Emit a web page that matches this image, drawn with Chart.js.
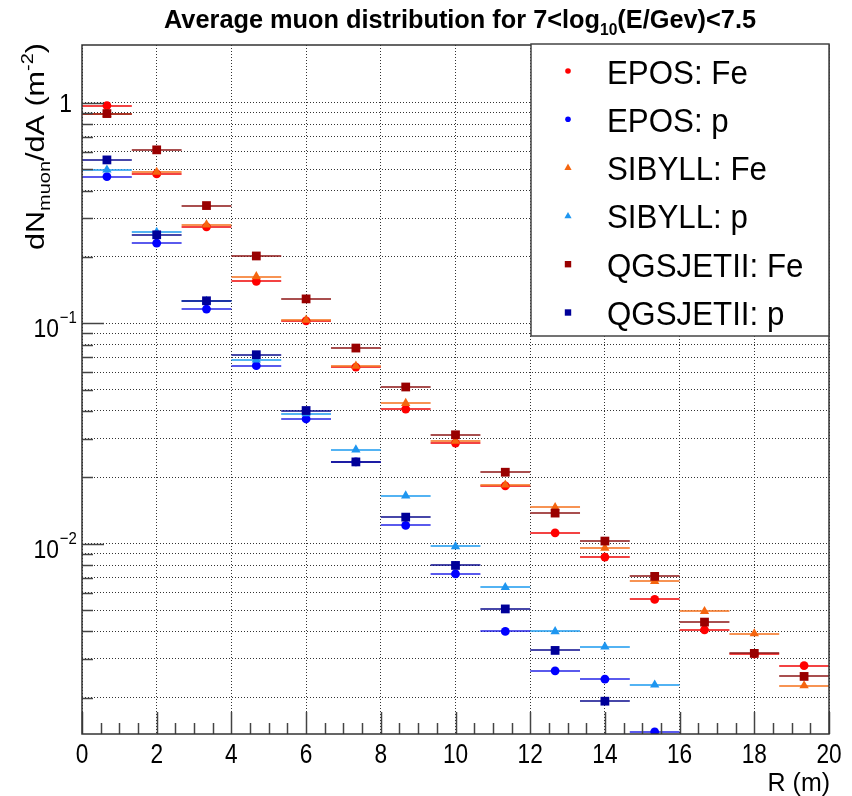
<!DOCTYPE html>
<html>
<head>
<meta charset="utf-8">
<script src="https://cdn.jsdelivr.net/npm/chart.js@4/dist/chart.umd.min.js"></script>
<style>
  html, body { margin: 0; padding: 0; background: #fff; }
  #wrap { width: 852px; height: 796px; }
</style>
</head>
<body>
<div id="wrap"><canvas id="myCanvas" width="852" height="796"></canvas></div>
<script>
// bins of R (m), 15 bins of width 4/3 from 0 to 20
const binCenters = [0.667, 2, 3.333, 4.667, 6, 7.333, 8.667, 10, 11.333, 12.667, 14, 15.333, 16.667, 18, 19.333];
const binHalfWidth = 0.6667;

// dN_muon/dA (m^-2) per model and primary
const eposFe   = [0.972, 0.476, 0.274, 0.155, 0.1026, 0.0633, 0.0408, 0.0286, 0.0183, 0.0112, 0.0087, 0.00559, 0.00407, 0.00316, 0.0028];
const eposP    = [0.463, 0.231, 0.116, 0.0642, 0.0368, 0.0235, 0.0121, 0.00729, 0.0040, 0.00265, 0.00243, 0.0014, null, null, null];
const sibyllFe = [0.89, 0.485, 0.280, 0.163, 0.1035, 0.064, 0.0434, 0.0292, 0.0185, 0.0146, 0.00956, 0.00675, 0.00493, 0.00391, 0.00227];
const sibyllP  = [0.497, 0.259, 0.126, 0.0683, 0.0389, 0.0267, 0.0165, 0.00972, 0.00634, 0.0040, 0.00341, 0.00229, null, null, null];
const qgsFe    = [0.894, 0.612, 0.342, 0.202, 0.129, 0.0772, 0.0514, 0.0312, 0.0211, 0.01377, 0.01028, 0.00711, 0.00441, 0.00318, 0.0025];
const qgsP     = [0.551, 0.252, 0.1265, 0.0720, 0.0402, 0.0235, 0.0132, 0.00797, 0.00506, 0.00328, 0.00193, null, null, null, null];

const seriesLabels = ['EPOS: Fe', 'EPOS: p', 'SIBYLL: Fe', 'SIBYLL: p', 'QGSJETII: Fe', 'QGSJETII: p'];
const seriesValues = [eposFe, eposP, sibyllFe, sibyllP, qgsFe, qgsP];
const seriesColors = ['#ff0000', '#0000ff', '#f5650f', '#1e96f0', '#990000', '#000099'];
const barColors    = ['rgba(240,20,20,0.8)', 'rgba(20,20,230,0.7)', 'rgba(245,120,40,0.8)', 'rgba(40,160,240,0.8)', 'rgba(140,20,20,0.75)', 'rgba(10,10,140,0.75)'];
const seriesMarkers = ['circle', 'circle', 'triangle', 'triangle', 'rect', 'rect'];

// axis ticks
const xTickLabels = ['0', '2', '4', '6', '8', '10', '12', '14', '16', '18', '20'];
const yTickValues = [0.002, 0.003, 0.004, 0.005, 0.006, 0.007, 0.008, 0.009,
                     0.01, 0.02, 0.03, 0.04, 0.05, 0.06, 0.07, 0.08, 0.09,
                     0.1, 0.2, 0.3, 0.4, 0.5, 0.6, 0.7, 0.8, 0.9, 1];
const yMajorValues = [0.01, 0.1, 1];
const yMajorLabels = [['10', '\u22122'], ['10', '\u22121'], ['1', '']];

const FONT = '"Liberation Sans", Arial, sans-serif';

function measurePieces(ctx, pieces) {
    let w = 0;
    pieces.forEach(p => { ctx.font = p.font; p.w = ctx.measureText(p.text).width; w += p.w; });
    return w;
}

function drawPieces(ctx, pieces, sx) {
    let cx = 0;
    ctx.save();
    ctx.scale(sx, 1);
    ctx.textAlign = 'left';
    ctx.textBaseline = 'alphabetic';
    pieces.forEach(p => { ctx.font = p.font; ctx.fillText(p.text, cx, p.dy); cx += p.w; });
    ctx.restore();
}

function drawMarker(ctx, style, x, y, r, color) {
    ctx.fillStyle = color;
    ctx.beginPath();
    if (style === 'circle') {
        ctx.arc(x, y, r, 0, Math.PI * 2);
    } else if (style === 'triangle') {
        ctx.moveTo(x, y - r);
        ctx.lineTo(x + r * 0.9, y + r * 0.6);
        ctx.lineTo(x - r * 0.9, y + r * 0.6);
        ctx.closePath();
    } else {
        ctx.rect(x - r, y - r, 2 * r, 2 * r);
    }
    ctx.fill();
}

const rootStyle = {
    id: 'rootStyle',
    beforeDatasetsDraw(chart) {
        const { ctx, chartArea: a, scales: { x, y } } = chart;
        ctx.save();
        ctx.beginPath();
        ctx.rect(a.left, a.top, a.right - a.left, a.bottom - a.top);
        ctx.clip();
        ctx.lineWidth = 2;
        chart.data.datasets.forEach(ds => {
            ctx.strokeStyle = ds.barColor;
            ds.data.forEach(p => {
                const py = Math.round(y.getPixelForValue(p.y));
                ctx.beginPath();
                ctx.moveTo(x.getPixelForValue(p.x - binHalfWidth), py);
                ctx.lineTo(x.getPixelForValue(p.x + binHalfWidth), py);
                ctx.stroke();
            });
        });
        ctx.restore();
    },
    afterDatasetsDraw(chart) {
        const { ctx, chartArea: a, scales: { x, y } } = chart;
        ctx.save();

        // inward tick marks
        ctx.strokeStyle = '#444';
        ctx.lineWidth = 1.5;
        yTickValues.forEach(v => {
            const py = Math.round(y.getPixelForValue(v)) + 0.5;
            const len = yMajorValues.includes(v) ? 22 : 11;
            ctx.beginPath();
            ctx.moveTo(a.left, py);
            ctx.lineTo(a.left + len, py);
            ctx.stroke();
        });
        for (let k = 0; k <= 40; k++) {
            const px = Math.round(x.getPixelForValue(k * 0.5)) + 0.5;
            const len = k % 4 === 0 ? 22 : 11;
            ctx.beginPath();
            ctx.moveTo(px, a.bottom);
            ctx.lineTo(px, a.bottom - len);
            ctx.stroke();
        }

        // frame
        ctx.strokeStyle = '#333';
        ctx.lineWidth = 1.5;
        ctx.strokeRect(a.left, a.top, a.right - a.left, a.bottom - a.top);

        // legend box
        const lx = 531, ly = 44, lw = a.right - 531, lh = 292;
        ctx.fillStyle = '#fff';
        ctx.fillRect(lx, ly, lw, lh);
        ctx.strokeStyle = '#444';
        ctx.lineWidth = 1.5;
        ctx.strokeRect(lx, ly, lw, lh);
        chart.data.datasets.forEach((ds, i) => {
            const rowY = 71 + i * 48.3;
            const r = ds.pointStyle === 'circle' ? 2.8 : (ds.pointStyle === 'triangle' ? 4 : 3.2);
            drawMarker(ctx, ds.pointStyle, 568, rowY, r, ds.borderColor);
            ctx.save();
            ctx.fillStyle = '#000';
            ctx.translate(607, rowY + 12.5);
            ctx.scale(0.92, 1);
            ctx.font = '34px ' + FONT;
            ctx.textAlign = 'left';
            ctx.fillText(ds.label, 0, 0);
            ctx.restore();
        });
        ctx.restore();
    },
    afterDraw(chart) {
        const { ctx, chartArea: a, scales: { x, y } } = chart;
        ctx.save();
        ctx.fillStyle = '#000';

        // x tick labels
        xTickLabels.forEach(t => {
            ctx.save();
            ctx.translate(x.getPixelForValue(Number(t)), 763);
            ctx.scale(0.84, 1);
            ctx.font = '27px ' + FONT;
            ctx.textAlign = 'center';
            ctx.fillText(t, 0, 0);
            ctx.restore();
        });

        // y tick labels
        yMajorValues.forEach((v, i) => {
            const py = y.getPixelForValue(v);
            const [base, sup] = yMajorLabels[i];
            ctx.save();
            if (sup) {
                ctx.font = '17px ' + FONT;
                const sw = ctx.measureText(sup).width * 0.88;
                ctx.font = '26px ' + FONT;
                const bw = ctx.measureText(base).width * 0.88;
                ctx.translate(77 - sw - bw - 1, py);
                ctx.scale(0.88, 1);
                ctx.font = '26px ' + FONT;
                ctx.fillText(base, 0, 14);
                ctx.font = '17px ' + FONT;
                ctx.fillText(sup, bw / 0.88 + 1, 0);
            } else {
                ctx.font = '26px ' + FONT;
                const bw = ctx.measureText(base).width * 0.88;
                ctx.translate(72 - bw, py);
                ctx.scale(0.88, 1);
                ctx.fillText(base, 0, 9);
            }
            ctx.restore();
        });

        // x title
        ctx.save();
        ctx.translate(830, 791);
        ctx.scale(0.96, 1);
        ctx.font = '26px ' + FONT;
        ctx.textAlign = 'right';
        ctx.fillText('R (m)', 0, 0);
        ctx.restore();

        // y title
        const big = '26px ' + FONT, small = '17px ' + FONT;
        const yTitle = [
            { text: 'dN', font: big, dy: 0 },
            { text: 'muon', font: small, dy: 6 },
            { text: '/dA (m', font: big, dy: 0 },
            { text: '-2', font: small, dy: -11 },
            { text: ')', font: big, dy: 0 }
        ];
        const yw = measurePieces(ctx, yTitle);
        ctx.save();
        ctx.translate(44, 250);
        ctx.rotate(-Math.PI / 2);
        drawPieces(ctx, yTitle, 207 / yw);
        ctx.restore();

        // main title
        const tb = 'bold 26px ' + FONT, ts = 'bold 16px ' + FONT;
        const title = [
            { text: 'Average muon distribution for 7<log', font: tb, dy: 0 },
            { text: '10', font: ts, dy: 7 },
            { text: '(E/Gev)<7.5', font: tb, dy: 0 }
        ];
        const tw = measurePieces(ctx, title);
        ctx.save();
        ctx.translate(164, 28);
        drawPieces(ctx, title, 592 / tw);
        ctx.restore();

        ctx.restore();
    }
};

const datasets = seriesLabels.map((label, i) => ({
    label: label,
    data: binCenters
        .map((c, j) => ({ x: c, y: seriesValues[i][j] }))
        .filter(p => p.y !== null),
    showLine: false,
    pointStyle: seriesMarkers[i],
    pointRadius: seriesMarkers[i] === 'circle' ? 4.4 : (seriesMarkers[i] === 'triangle' ? 5.4 : 6.2),
    pointBackgroundColor: seriesColors[i],
    pointBorderColor: seriesColors[i],
    pointBorderWidth: 0,
    borderColor: seriesColors[i],
    backgroundColor: seriesColors[i],
    barColor: barColors[i],
    order: 6 - i
}));

const canvas = document.getElementById('myCanvas');
new Chart(canvas.getContext('2d'), {
    type: 'scatter',
    data: { datasets: datasets },
    options: {
        responsive: false,
        animation: false,
        layout: { padding: { left: 82, right: 23, top: 45, bottom: 62 } },
        plugins: {
            legend: { display: false },
            title: { display: false },
            tooltip: { enabled: false }
        },
        scales: {
            x: {
                type: 'linear',
                min: 0,
                max: 20,
                ticks: { stepSize: 2, display: false },
                grid: { color: '#333', lineWidth: 1, drawTicks: false },
                border: { display: false, dash: [1, 2] },
                afterFit(s) { s.height = 0; }
            },
            y: {
                type: 'logarithmic',
                min: 0.00137,
                max: 1.83,
                afterBuildTicks(s) { s.ticks = yTickValues.map(v => ({ value: v })); },
                ticks: { display: false, autoSkip: false },
                grid: { color: '#333', lineWidth: 1, drawTicks: false },
                border: { display: false, dash: [1, 2] },
                afterFit(s) { s.width = 0; }
            }
        }
    },
    plugins: [rootStyle]
});
</script>
</body>
</html>
